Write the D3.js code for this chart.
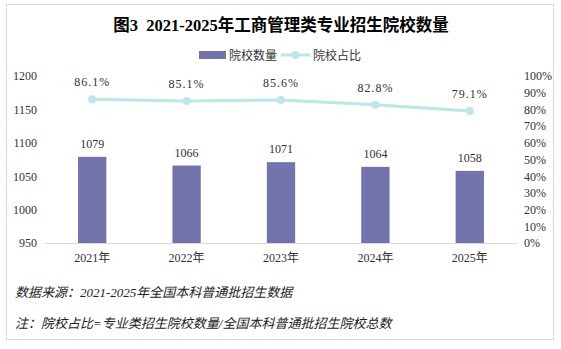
<!DOCTYPE html>
<html>
<head>
<meta charset="utf-8">
<script src="https://cdn.jsdelivr.net/npm/d3@7"></script>
<style>
  body { margin: 0; background: #fff; }
  svg text { font-family: "Liberation Serif", "Noto Sans CJK SC", serif; }
</style>
</head>
<body>
<svg width="561" height="349"></svg>
<script>
const years = ["2021年", "2022年", "2023年", "2024年", "2025年"];
const schoolCount = [1079, 1066, 1071, 1064, 1058];
const schoolShare = [0.861, 0.851, 0.856, 0.828, 0.791];
const leftTicks = [950, 1000, 1050, 1100, 1150, 1200];
const rightTicks = [0, 0.1, 0.2, 0.3, 0.4, 0.5, 0.6, 0.7, 0.8, 0.9, 1];

const barColor = "#7474ad";
const lineColor = "#bce7e6";

const svg = d3.select("svg");

// frame
svg.append("rect").attr("x", 6.5).attr("y", 4.5).attr("width", 547).attr("height", 335)
  .attr("fill", "none").attr("stroke", "#d9d9d9");

const x = d3.scaleBand().domain(years).range([45, 517]).paddingInner(0.7).paddingOuter(0.35);
const yL = d3.scaleLinear().domain([950, 1200]).range([243, 76]);
const yR = d3.scaleLinear().domain([0, 1]).range([243, 76]);

// title
svg.append("text").attr("x", 281).attr("y", 31).attr("text-anchor", "middle")
  .attr("font-size", 16.5).attr("font-weight", "bold").attr("fill", "#000")
  .style("font-family", "\"Liberation Serif\", \"Noto Sans CJK SC\"")
  .style("white-space", "pre")
  .text("图3  2021-2025年工商管理类专业招生院校数量");

// legend
const lg = svg.append("g").attr("font-size", 12).attr("fill", "#333");
lg.append("rect").attr("x", 199).attr("y", 51).attr("width", 27).attr("height", 8).attr("fill", barColor);
lg.append("text").attr("x", 229).attr("y", 60).text("院校数量");
lg.append("line").attr("x1", 281).attr("x2", 310).attr("y1", 55).attr("y2", 55)
  .attr("stroke", lineColor).attr("stroke-width", 3);
lg.append("circle").attr("cx", 295.5).attr("cy", 55).attr("r", 4).attr("fill", lineColor);
lg.append("text").attr("x", 313).attr("y", 60).text("院校占比");

// left axis
const axL = svg.append("g").attr("transform", "translate(37,0)")
  .call(d3.axisLeft(yL).tickValues(leftTicks).tickSize(0).tickPadding(0).tickFormat(d3.format("d")));
axL.select(".domain").remove();
axL.selectAll("text").attr("font-size", 12).attr("fill", "#333")
  .style("font-family", "Liberation Serif");

// right axis
const axR = svg.append("g").attr("transform", "translate(524,0)")
  .call(d3.axisRight(yR).tickValues(rightTicks).tickSize(0).tickPadding(0).tickFormat(d3.format(".0%")));
axR.select(".domain").remove();
axR.selectAll("text").attr("font-size", 12).attr("fill", "#333")
  .style("font-family", "Liberation Serif");

// bars
svg.append("g").selectAll("rect").data(schoolCount).join("rect")
  .attr("x", (d, i) => x(years[i]))
  .attr("width", x.bandwidth())
  .attr("y", d => yL(d))
  .attr("height", d => yL(950) - yL(d))
  .attr("fill", barColor);

svg.append("g").selectAll("text").data(schoolCount).join("text")
  .attr("x", (d, i) => x(years[i]) + x.bandwidth() / 2)
  .attr("y", d => yL(d) - 9)
  .attr("text-anchor", "middle").attr("font-size", 12).attr("fill", "#333")
  .text(d => d);

// bottom axis
const axB = svg.append("g").attr("transform", "translate(0,243)")
  .call(d3.axisBottom(x).tickSize(0).tickPadding(10));
axB.select(".domain").attr("stroke", "#d9d9d9");
axB.selectAll("text").attr("font-size", 12).attr("fill", "#333");

// line
const cx = (d, i) => x(years[i]) + x.bandwidth() / 2;
svg.append("path").datum(schoolShare)
  .attr("fill", "none").attr("stroke", lineColor).attr("stroke-width", 3)
  .attr("d", d3.line().x(cx).y(d => yR(d)));
svg.append("g").selectAll("circle").data(schoolShare).join("circle")
  .attr("cx", cx).attr("cy", d => yR(d)).attr("r", 4).attr("fill", lineColor);
svg.append("g").selectAll("text").data(schoolShare).join("text")
  .attr("x", cx).attr("y", d => yR(d) - 13)
  .attr("text-anchor", "middle").attr("font-size", 12).attr("fill", "#333")
  .attr("letter-spacing", 1)
  .text(d => d3.format(".1%")(d));

// footer
const ft = svg.append("g").attr("font-size", 13).attr("fill", "#222").attr("font-style", "italic")
  .style("font-family", "\"Liberation Serif\", \"Noto Sans CJK SC\"");
ft.append("text").attr("x", 15).attr("y", 297).text("数据来源：2021-2025年全国本科普通批招生数据");
ft.append("text").attr("x", 15).attr("y", 328).text("注：院校占比=专业类招生院校数量/全国本科普通批招生院校总数");
</script>
</body>
</html>
